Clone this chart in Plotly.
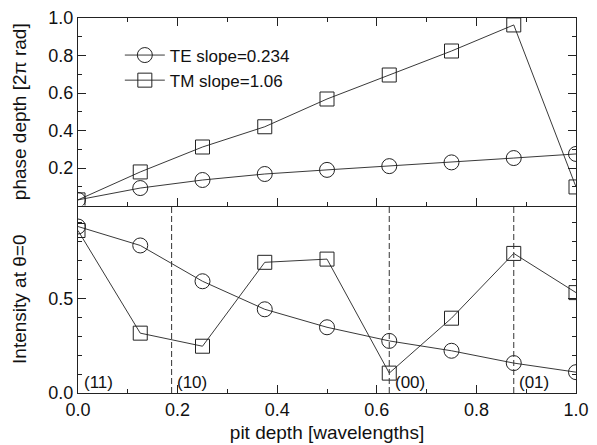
import plotly.graph_objects as go
from plotly.subplots import make_subplots

pit_depth = [0.0, 0.125, 0.25, 0.375, 0.5, 0.625, 0.75, 0.875, 1.0]
te_phase = [0.03, 0.093, 0.136, 0.168, 0.19, 0.21, 0.23, 0.253, 0.275]
tm_phase = [0.03, 0.179, 0.312, 0.42, 0.568, 0.696, 0.824, 0.963, 0.099]
te_intensity = [0.879, 0.779, 0.59, 0.442, 0.347, 0.275, 0.223, 0.158, 0.11]
tm_intensity = [0.858, 0.316, 0.247, 0.69, 0.707, 0.105, 0.395, 0.737, 0.53]
order_x = [0.188, 0.625, 0.875]
order_labels = ["(11)", "(10)", "(00)", "(01)"]
order_label_x = [0.008, 0.195, 0.632, 0.882]
order_label_y = [0.055, 0.055, 0.055, 0.055]

FONT = "Liberation Sans, Arial, sans-serif"
INK = "#111"

fig = make_subplots(rows=2, cols=1, shared_xaxes=True, vertical_spacing=0)

line_style = dict(color="#222", width=0.9)
fig.add_trace(go.Scatter(x=pit_depth, y=te_phase, mode="lines+markers",
                         name="TE slope=0.234", line=line_style,
                         marker=dict(symbol="circle-open", size=15, color="#222", line=dict(width=1))),
              row=1, col=1)
fig.add_trace(go.Scatter(x=pit_depth, y=tm_phase, mode="lines+markers",
                         name="TM slope=1.06", line=line_style,
                         marker=dict(symbol="square-open", size=14, color="#222", line=dict(width=1))),
              row=1, col=1)
fig.add_trace(go.Scatter(x=pit_depth, y=te_intensity, mode="lines+markers",
                         showlegend=False, line=line_style,
                         marker=dict(symbol="circle-open", size=15, color="#222", line=dict(width=1))),
              row=2, col=1)
fig.add_trace(go.Scatter(x=pit_depth, y=tm_intensity, mode="lines+markers",
                         showlegend=False, line=line_style,
                         marker=dict(symbol="square-open", size=14, color="#222", line=dict(width=1))),
              row=2, col=1)

for xv in order_x:
    fig.add_shape(type="line", x0=xv, x1=xv, y0=0, y1=1, xref="x2", yref="y2 domain",
                  line=dict(color="#333", width=1, dash="6px,3px"))

for t, xv, yv in zip(order_labels, order_label_x, order_label_y):
    fig.add_annotation(x=xv, y=yv, xref="x2", yref="y2", text=t, showarrow=False,
                       xanchor="left", yanchor="middle", font=dict(family=FONT, size=17, color=INK))

tick_font = dict(family=FONT, size=18, color=INK)
title_font = dict(family=FONT, size=19, color=INK)
minor = dict(dtick=0.1, ticks="inside", ticklen=4, tickcolor="#222")

common = dict(showline=True, linecolor="#222", linewidth=1,
              ticks="inside", ticklen=8, tickcolor="#222", showgrid=False, zeroline=False,
              tickfont=tick_font, automargin=False)

fig.update_xaxes(range=[0, 1], dtick=0.2, tickformat=".1f", minor=minor, **common)
fig.update_xaxes(showticklabels=False, mirror="ticks", row=1, col=1)
fig.update_xaxes(mirror=False, title=dict(text="pit depth [wavelengths]", font=title_font, standoff=9),
                 row=2, col=1)

fig.update_yaxes(range=[0, 1], tickvals=[0.2, 0.4, 0.6, 0.8, 1.0], tickformat=".1f", minor=minor,
                 mirror="ticks",
                 title=dict(text="phase depth [2π rad]", font=title_font, standoff=16),
                 row=1, col=1, **common)
fig.update_yaxes(range=[0, 0.99], tickvals=[0.0, 0.5], tickformat=".1f", minor=minor,
                 mirror="ticks",
                 title=dict(text="Intensity at θ=0", font=title_font, standoff=16),
                 row=2, col=1, **common)

fig.update_layout(
    width=590, height=435,
    margin=dict(l=70, r=22, t=10, b=50),
    paper_bgcolor="white", plot_bgcolor="white",
    font=dict(family=FONT, size=16, color=INK),
    showlegend=True,
    legend=dict(x=0.084, y=0.948, xanchor="left", yanchor="top", bgcolor="rgba(0,0,0,0)",
                font=dict(family=FONT, size=17, color=INK), itemwidth=40, tracegroupgap=0),
)

fig.write_html("out.html")
